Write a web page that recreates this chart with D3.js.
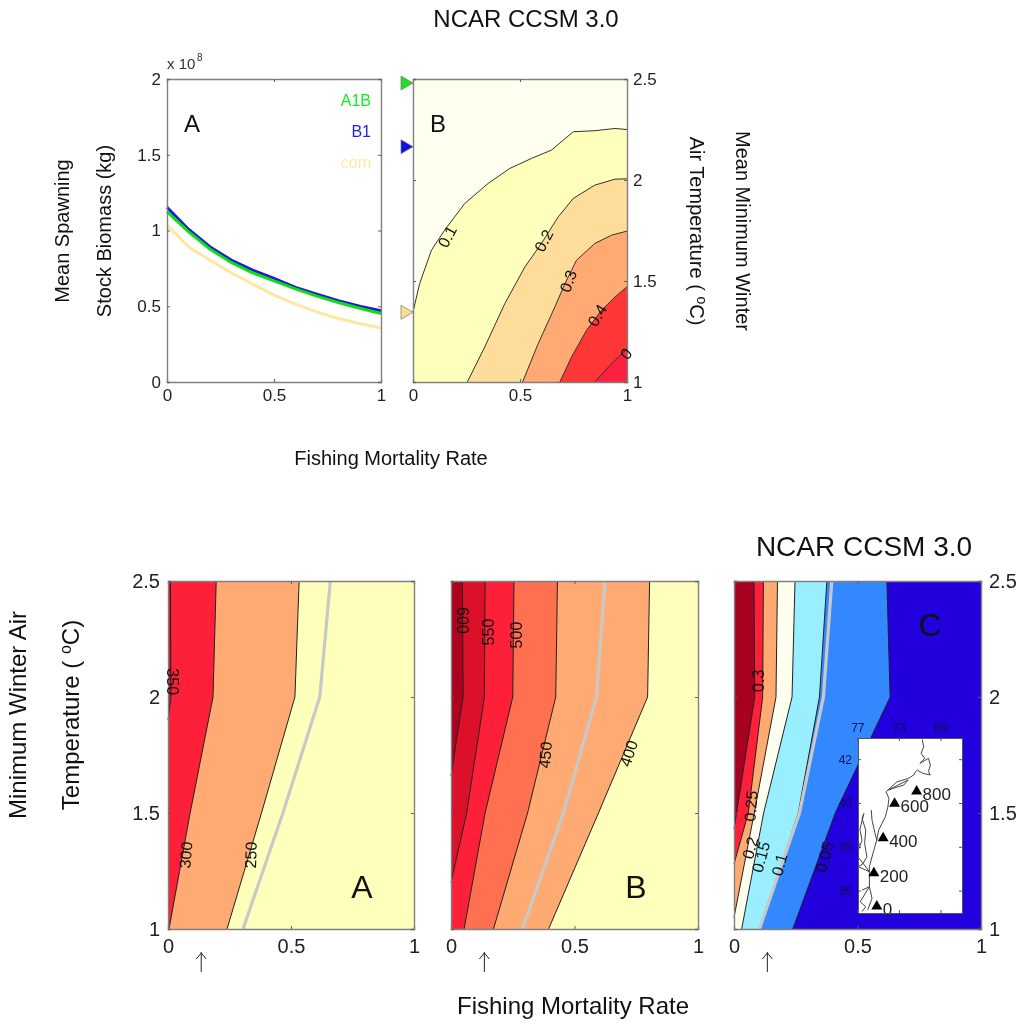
<!DOCTYPE html>
<html>
<head>
<meta charset="utf-8">
<script src="https://cdn.jsdelivr.net/npm/d3@7"></script>
<style>
  body { margin: 0; background: #fff; }
  svg { display: block; font-family: "Liberation Sans", Arial, sans-serif; filter: blur(0.4px); }
</style>
</head>
<body>
<div id="chart"></div>
<script>
// Fishing mortality grid for the yield curves
var fishing = [0, 0.1, 0.2, 0.3, 0.4, 0.5, 0.6, 0.7, 0.8, 0.9, 1];

// Spawning stock biomass (x 10^8 kg)
var biomassB1 = [1.153, 1.008, 0.893, 0.805, 0.739, 0.684, 0.624, 0.58, 0.536, 0.5, 0.47];
var biomassA1B = [1.125, 0.992, 0.878, 0.789, 0.721, 0.668, 0.615, 0.567, 0.525, 0.487, 0.452];
var biomassCom = [1.036, 0.893, 0.805, 0.721, 0.646, 0.573, 0.514, 0.463, 0.419, 0.386, 0.357];

// Mean minimum winter temperature per scenario (triangles)
var scenarioNames = ["A1B", "B1", "com"];
var scenarioTemps = [2.48, 2.165, 1.345];
var scenarioColors = ["#22dd22", "#1111dd", "#fddc8c"];

// Top panel B contours as [F, T]
var topLevels = [0.1, 0.2, 0.3, 0.4, 0.5];
var topContours = [
  [[0, 1.347], [0.031, 1.487], [0.086, 1.652], [0.148, 1.752], [0.242, 1.884], [0.351, 1.983], [0.452, 2.057], [0.554, 2.107], [0.647, 2.148], [0.749, 2.239], [0.85, 2.244], [0.944, 2.255], [1, 2.25]],
  [[0.254, 1], [0.335, 1.173], [0.429, 1.388], [0.523, 1.57], [0.6, 1.686], [0.679, 1.818], [0.749, 1.909], [0.85, 1.975], [0.944, 2.004], [1, 2.006]],
  [[0.512, 1], [0.585, 1.19], [0.663, 1.372], [0.71, 1.487], [0.764, 1.603], [0.85, 1.686], [0.928, 1.727], [1, 1.747]],
  [[0.686, 1], [0.741, 1.124], [0.811, 1.256], [0.881, 1.355], [0.944, 1.421], [1, 1.471]],
  [[0.85, 1], [0.913, 1.074], [0.975, 1.14], [1, 1.165]]
];
var topBackground = "#fffff0";
var topFills = ["#ffffbc", "#fedd9a", "#feaa72", "#fe3636", "#fe2040"];
var topLabels = [
  ["0.1", 0.16, 1.72, -62],
  ["0.2", 0.61, 1.7, -62],
  ["0.3", 0.725, 1.5, -70],
  ["0.4", 0.86, 1.33, -60],
  ["0", 0.995, 1.14, -50]
];

// Bottom panels, contours as [F, T], darkest region last
var panelAContours = [
  [[0.24, 1], [0.38, 1.5], [0.516, 2], [0.533, 2.5]],
  [[0.004, 1], [0.09, 1.5], [0.183, 2], [0.196, 2.5]],
  [[0, 1.9], [0.012, 2], [0.01, 2.5]]
];
var panelAFills = ["#feaa72", "#fe2038", "#d8102c"];
var panelABackground = "#ffffbc";
var panelACurrent = [[0.305, 1], [0.467, 1.5], [0.617, 2], [0.66, 2.5]];
var panelALabels = [
  ["350", 0.018, 2.066, 90],
  ["300", 0.072, 1.319, -85],
  ["250", 0.336, 1.319, -88]
];

var panelBContours = [
  [[0.395, 1], [0.597, 1.5], [0.796, 2], [0.804, 2.5]],
  [[0.172, 1], [0.31, 1.5], [0.424, 2], [0.431, 2.5]],
  [[0.053, 1], [0.138, 1.5], [0.25, 2], [0.255, 2.5]],
  [[0, 1.2], [0.0635, 1.5], [0.135, 2], [0.138, 2.5]],
  [[0, 1.66], [0.049, 2], [0.046, 2.5]]
];
var panelBFills = ["#feaa72", "#fe7050", "#fe2038", "#dc1028", "#b00020"];
var panelBBackground = "#ffffbc";
var panelBCurrent = [[0.289, 1], [0.455, 1.5], [0.589, 2], [0.624, 2.5]];
var panelBLabels = [
  ["600", 0.046, 2.33, 90],
  ["550", 0.149, 2.28, -90],
  ["500", 0.264, 2.267, -90],
  ["450", 0.381, 1.75, -85],
  ["400", 0.719, 1.757, -72]
];

var panelCContours = [
  [[0.238, 1], [0.41, 1.5], [0.632, 2], [0.619, 2.5]],
  [[0.105, 1], [0.26, 1.5], [0.346, 2], [0.376, 2.5]],
  [[0.031, 1], [0.12, 1.5], [0.235, 2], [0.247, 2.5]],
  [[0, 1.05], [0.082, 1.5], [0.17, 2], [0.176, 2.5]],
  [[0, 1.28], [0.058, 1.5], [0.116, 2], [0.119, 2.5]],
  [[0, 1.43], [0.084, 2], [0.081, 2.5]]
];
var panelCFills = ["#3388ff", "#99eeff", "#fffff0", "#feaa72", "#fe2038", "#a80020"];
var panelCBackground = "#2200dd";
var panelCCurrent = [[0.103, 1], [0.265, 1.5], [0.362, 2], [0.396, 2.5]];
var panelCLabels = [
  ["0.3", 0.099, 2.07, -90],
  ["0.25", 0.068, 1.53, -85],
  ["0.2", 0.065, 1.35, -75],
  ["0.15", 0.108, 1.31, -75],
  ["0.1", 0.183, 1.277, -75],
  ["0.05", 0.365, 1.31, -75]
];

// Arrow under the bottom panels (current fishing rate)
var currentRate = 0.135;

// Inset map, lon/lat
var lonTicks = [77, 73, 69];
var latTicks = [42, 40, 38, 36];
var coastLines = [
  [[70.76, 42.9], [70.62, 42.57], [70.87, 42.26], [70.52, 42.04], [70.98, 41.81], [70.16, 42.04], [69.98, 41.73], [70.16, 41.43], [69.98, 41.28], [70.69, 41.35], [71.23, 41.5], [71.4, 41.43], [71.58, 41.28], [72.11, 41.12], [73.18, 40.97], [73.89, 40.67], [74.24, 40.51], [73.96, 40.21], [74.06, 39.83], [74.31, 39.37], [74.95, 38.76], [75.13, 38.31], [75.3, 38.61], [75.59, 39.22], [75.66, 39.68]],
  [[74.06, 40.59], [72.11, 41.05], [72.54, 40.82], [73.53, 40.67], [74.06, 40.59]],
  [[75.13, 38.31], [75.5, 37.7], [75.84, 37.09], [75.84, 36.86], [75.84, 36.18], [75.59, 35.64], [76.01, 35.11]],
  [[76.37, 39.52], [76.55, 39.3], [76.19, 38.76], [76.3, 38.15], [76.08, 37.55], [76.44, 37.24], [75.84, 36.86]],
  [[77.43, 38.46], [76.72, 38.08], [77.08, 37.62], [76.44, 37.24], [76.9, 37.09], [75.84, 36.86]],
  [[76.37, 39.52], [76.75, 38.8], [76.55, 38.3], [76.72, 38.08]],
  [[76.55, 36.02], [75.84, 36.18], [76.72, 35.49], [76.19, 35.26], [76.55, 35.04]]
];
var stationLon = [71.3, 73.42, 74.52, 75.41, 75.13];
var stationLat = [40.59, 40.03, 38.46, 36.86, 35.34];
var stationNames = ["800", "600", "400", "200", "0"];

var svg = d3.select("#chart").append("svg").attr("width", 1021).attr("height", 1025);

var lineGen = function (x, y) {
  return d3.line().x(function (d) { return x(d[0]); }).y(function (d) { return y(d[1]); });
};

// Ticks on all four sides, labels only where asked
function drawFrame(g, x, y, w, h, xTicks, yTicks, opts) {
  var xFmt = function (d) { return d; };
  g.append("g").attr("transform", "translate(0," + h + ")")
    .call(d3.axisBottom(x).tickValues(xTicks).tickFormat(xFmt).tickSize(-3).tickPadding(opts.xPad));
  g.append("g")
    .call(d3.axisTop(x).tickValues(xTicks).tickFormat("").tickSize(-3));
  g.append("g")
    .call(d3.axisLeft(y).tickValues(yTicks).tickFormat(opts.side === "left" ? xFmt : "").tickSize(-3).tickPadding(opts.yPad));
  g.append("g").attr("transform", "translate(" + w + ",0)")
    .call(d3.axisRight(y).tickValues(yTicks).tickFormat(opts.side === "right" ? xFmt : "").tickSize(-3).tickPadding(opts.yPad));
  g.selectAll(".domain").attr("stroke", "#808080").attr("stroke-width", 1.4);
  g.selectAll(".tick line").attr("stroke", "#606060");
  g.selectAll(".tick text")
    .style("font-family", "inherit")
    .style("font-size", opts.fontSize + "px")
    .attr("fill", "#222");
}

function drawContourLabels(g, x, y, labels, size) {
  g.selectAll(".clabel")
    .data(labels)
    .enter()
    .append("text")
    .attr("class", "clabel")
    .attr("text-anchor", "middle")
    .attr("dy", "0.36em")
    .attr("transform", function (d) {
      return "translate(" + x(d[1]) + "," + y(d[2]) + ") rotate(" + d[3] + ")";
    })
    .style("font-size", size + "px")
    .attr("fill", "#111")
    .text(function (d) { return d[0]; });
}

function drawContourPanel(left, top, w, h, cfg) {
  var g = svg.append("g").attr("transform", "translate(" + left + "," + top + ")");
  var x = d3.scaleLinear().domain([0, 1]).range([0, w]);
  var y = d3.scaleLinear().domain([1, 2.5]).range([h, 0]);
  var line = lineGen(x, y);

  g.append("rect").attr("width", w).attr("height", h).attr("fill", cfg.background);

  cfg.contours.forEach(function (c, i) {
    g.append("path")
      .attr("d", line(c.concat(cfg.closing)) + "Z")
      .attr("fill", cfg.fills[i]);
  });
  cfg.contours.forEach(function (c) {
    g.append("path").attr("d", line(c)).attr("fill", "none")
      .attr("stroke", cfg.lineColor || "#222").attr("stroke-width", 1);
  });
  if (cfg.current) {
    g.append("path").attr("d", line(cfg.current)).attr("fill", "none")
      .attr("stroke", "#c8c8c8").attr("stroke-width", 3.2);
  }

  drawFrame(g, x, y, w, h, [0, 0.5, 1], [1, 1.5, 2, 2.5], cfg.axis);
  drawContourLabels(g, x, y, cfg.labels, cfg.labelSize);
  return { g: g, x: x, y: y };
}

function addText(str, px, py, size, anchor, rotate, color) {
  return svg.append("text")
    .attr("transform", "translate(" + px + "," + py + ")" + (rotate ? " rotate(" + rotate + ")" : ""))
    .attr("text-anchor", anchor || "middle")
    .style("font-size", size + "px")
    .attr("fill", color || "#111")
    .text(str);
}

// Triangles pointing at the temperature axis
function drawScenarioMarks(g, y, px, dir) {
  g.selectAll(".scen")
    .data(scenarioTemps)
    .enter()
    .append("path")
    .attr("class", "scen")
    .attr("d", "M" + (-dir * 6) + ",-7L" + (-dir * 6) + ",7L" + (dir * 6) + ",0Z")
    .attr("transform", function (d) { return "translate(" + px + "," + y(d) + ")"; })
    .attr("fill", function (d, i) { return scenarioColors[i]; })
    .attr("stroke", "#777")
    .attr("stroke-width", 0.7);
}

/* ---- top panel A ---- */
(function () {
  var w = 214, h = 303;
  var g = svg.append("g").attr("transform", "translate(167,79)");
  var x = d3.scaleLinear().domain([0, 1]).range([0, w]);
  var y = d3.scaleLinear().domain([0, 2]).range([h, 0]);
  var line = d3.line()
    .x(function (d, i) { return x(fishing[i]); })
    .y(function (d) { return y(d); });

  g.append("path").datum(biomassCom).attr("d", line).attr("fill", "none").attr("stroke", "#fee8a0").attr("stroke-width", 3);
  g.append("path").datum(biomassB1).attr("d", line).attr("fill", "none").attr("stroke", "#1a1add").attr("stroke-width", 3);
  g.append("path").datum(biomassA1B).attr("d", line).attr("fill", "none").attr("stroke", "#11dd11").attr("stroke-width", 3);

  drawFrame(g, x, y, w, h, [0, 0.5, 1], [0, 0.5, 1, 1.5, 2], { side: "left", fontSize: 17, xPad: 7, yPad: 6 });
})();

addText("x 10", 167, 69, 15, "start", 0, "#333");
addText("8", 197, 61, 10, "start", 0, "#333");
addText("A", 192, 132, 24);
addText("A1B", 371, 106, 16, "end", 0, "#11ee22");
addText("B1", 371, 137, 16, "end", 0, "#2222ee");
addText("com", 371, 168, 16, "end", 0, "#fee8a8");

/* ---- top panel B ---- */
var topB = drawContourPanel(413, 79, 214, 303, {
  background: topBackground,
  contours: topContours,
  fills: topFills,
  closing: [[1, 1], [0, 1]],
  labels: topLabels,
  labelSize: 16,
  lineColor: "#333",
  axis: { side: "right", fontSize: 17, xPad: 7, yPad: 6 }
});
drawScenarioMarks(svg, function (t) { return topB.y(t) + 79; }, 407, 1);
addText("B", 438, 132, 24);

addText("NCAR CCSM 3.0", 526, 27, 24);
addText("Mean Spawning", 69, 231, 20, "middle", -90);
addText("Stock Biomass (kg)", 111, 231, 20, "middle", -90);
addText("Fishing Mortality Rate", 391, 465, 20);

var airLabel = addText("Air Temperature ( ", 690, 231, 20, "middle", 90);
airLabel.append("tspan").attr("dy", -7).style("font-size", "14px").text("o");
airLabel.append("tspan").attr("dy", 7).text("C)");
addText("Mean Minimum Winter", 736, 231, 20, "middle", 90);

/* ---- bottom panels ---- */
var bottomAxis = { side: "left", fontSize: 20, xPad: 10, yPad: 8 };
var closeLeft = [[0, 2.5], [0, 1]];

var botA = drawContourPanel(168, 581, 246, 348, {
  background: panelABackground,
  contours: panelAContours,
  fills: panelAFills,
  closing: closeLeft,
  current: panelACurrent,
  labels: panelALabels,
  labelSize: 16,
  axis: bottomAxis
});

var botB = drawContourPanel(451, 581, 247, 348, {
  background: panelBBackground,
  contours: panelBContours,
  fills: panelBFills,
  closing: closeLeft,
  current: panelBCurrent,
  labels: panelBLabels,
  labelSize: 16,
  axis: { side: "none", fontSize: 20, xPad: 10, yPad: 8 }
});

var botC = drawContourPanel(734, 581, 247, 348, {
  background: panelCBackground,
  contours: panelCContours,
  fills: panelCFills,
  closing: closeLeft,
  current: panelCCurrent,
  labels: panelCLabels,
  labelSize: 16,
  axis: { side: "right", fontSize: 20, xPad: 10, yPad: 8 }
});
drawScenarioMarks(svg, function (t) { return botC.y(t) + 581; }, 991, -1);

addText("A", 362, 898, 32);
addText("B", 636, 898, 32);
addText("C", 930, 636, 32);
addText("NCAR CCSM 3.0", 864, 556, 28);

[botA, botB, botC].forEach(function (p) {
  var ax = p.x(currentRate);
  p.g.append("path")
    .attr("d", "M" + ax + ",371V391M" + (ax - 5) + ",378L" + ax + ",372L" + (ax + 5) + ",378")
    .attr("fill", "none").attr("stroke", "#222").attr("stroke-width", 1);
});

var tempLabel = addText("Temperature ( ", 79, 715, 24, "middle", -90);
tempLabel.append("tspan").attr("dy", -8).style("font-size", "16px").text("o");
tempLabel.append("tspan").attr("dy", 8).text("C)");
addText("Minimum Winter Air", 26, 715, 24, "middle", -90);
addText("Fishing Mortality Rate", 573, 1014, 24);

/* ---- inset map ---- */
(function () {
  var w = 104, h = 175;
  var g = svg.append("g").attr("transform", "translate(858,738)");
  var x = d3.scaleLinear().domain([73 + 37 / 9.4, 73 - 57 / 9.4]).range([0, w]);
  var y = d3.scaleLinear().domain([40 + 65 / 21.9, 40 - 110 / 21.9]).range([0, h]);
  var line = lineGen(x, y);

  g.append("clipPath").attr("id", "inset-clip").append("rect").attr("width", w).attr("height", h);
  g.append("rect").attr("width", w).attr("height", h).attr("fill", "#fff");

  g.append("g").attr("clip-path", "url(#inset-clip)")
    .selectAll("path")
    .data(coastLines)
    .enter()
    .append("path")
    .attr("d", line)
    .attr("fill", "none")
    .attr("stroke", "#444")
    .attr("stroke-width", 1);

  var stations = stationNames.map(function (name, i) {
    return { name: name, lon: stationLon[i], lat: stationLat[i] };
  });
  g.selectAll(".station")
    .data(stations)
    .enter()
    .append("path")
    .attr("class", "station")
    .attr("d", "M-5.5,4.5L5.5,4.5L0,-5Z")
    .attr("transform", function (d) { return "translate(" + x(d.lon) + "," + y(d.lat) + ")"; })
    .attr("fill", "#000");
  g.selectAll(".stationName")
    .data(stations)
    .enter()
    .append("text")
    .attr("class", "stationName")
    .attr("x", function (d) { return x(d.lon) + 6; })
    .attr("y", function (d) { return y(d.lat) + 10; })
    .style("font-size", "17px")
    .attr("fill", "#222")
    .text(function (d) { return d.name; });

  g.append("g").call(d3.axisTop(x).tickValues(lonTicks).tickSize(-3).tickPadding(6));
  g.append("g").call(d3.axisLeft(y).tickValues(latTicks).tickSize(-3).tickPadding(6));
  g.append("g").attr("transform", "translate(0," + h + ")").call(d3.axisBottom(x).tickValues(lonTicks).tickFormat("").tickSize(-3));
  g.append("g").attr("transform", "translate(" + w + ",0)").call(d3.axisRight(y).tickValues(latTicks).tickFormat("").tickSize(-3));
  g.selectAll(".domain").attr("stroke", "#555");
  g.selectAll(".tick line").attr("stroke", "#555");
  g.selectAll(".tick text").style("font-family", "inherit").style("font-size", "12px").attr("fill", "#101050");
})();
</script>
</body>
</html>
